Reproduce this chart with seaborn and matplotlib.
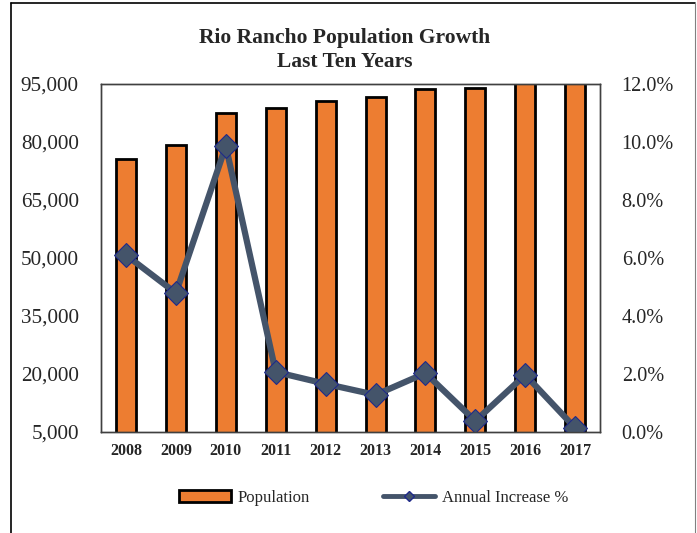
import matplotlib
matplotlib.use("Agg")
import matplotlib.pyplot as plt
import seaborn as sns
import pandas as pd
import numpy as np
from matplotlib.lines import Line2D
from matplotlib.patches import Patch
from matplotlib.ticker import FuncFormatter, FixedLocator

years = ["2008", "2009", "2010", "2011", "2012", "2013", "2014", "2015", "2016", "2017"]
population = [75600, 79200, 87500, 88800, 90600, 91600, 93700, 94000, 96000, 97000]
annual_increase = [6.10, 4.79, 9.86, 2.07, 1.66, 1.28, 2.03, 0.38, 1.97, 0.14]

title = "Rio Rancho Population Growth\nLast Ten Years"
left_ticks = [5000, 20000, 35000, 50000, 65000, 80000, 95000]
right_ticks = [0, 2, 4, 6, 8, 10, 12]

sns.set_style("white")
plt.rcParams["font.family"] = ["Liberation Serif", "DejaVu Serif"]

df = pd.DataFrame({"Year": years, "Population": population, "Pct": annual_increase})

fig = plt.figure(figsize=(6.97, 5.33), dpi=100)
ax = fig.add_axes([0.145, 0.1895, 0.716, 0.653])

sns.barplot(data=df, x="Year", y="Population", color="#ED7D31", width=0.4,
            edgecolor="black", linewidth=2.0, saturation=1, ax=ax, zorder=2)
ax.set_ylim(5000, 95000)
ax.yaxis.set_major_locator(FixedLocator(left_ticks))
ax.yaxis.set_major_formatter(FuncFormatter(lambda v, p: f"{int(v):,}"))
ax.set_xlabel("")
ax.set_ylabel("")
ax.tick_params(axis="y", labelsize=15.2, length=0, pad=16)
ax.tick_params(axis="x", labelsize=11.5, length=0, pad=8)
for lab in ax.get_xticklabels():
    lab.set_fontweight("bold")

ax2 = ax.twinx()
sns.pointplot(data=df, x="Year", y="Pct", color="#44546A", markers="D",
              linestyles="-", linewidth=4.5, markersize=12.5, ax=ax2)
for ln in ax2.lines:
    ln.set_markeredgecolor("#1F2A8A")
    ln.set_markeredgewidth(0.8)
    ln.set_solid_joinstyle("miter")
ax2.set_ylim(0, 12)
ax2.yaxis.set_major_locator(FixedLocator(right_ticks))
ax2.yaxis.set_major_formatter(FuncFormatter(lambda v, p: f"{v:.1f}%"))
ax2.set_ylabel("")
ax2.tick_params(axis="y", labelsize=14.6, length=0, pad=15.5)
ax.set_xlim(-0.5, 9.5)

for a in (ax, ax2):
    for s in a.spines.values():
        s.set_color("#404040")
        s.set_linewidth(1.0)

fig.text(0.495, 0.906, title, ha="center", va="center", fontsize=15.5,
         fontweight="bold", linespacing=1.22)

handles = [
    Patch(facecolor="#ED7D31", edgecolor="black", linewidth=2.0),
    Line2D([0], [0], color="#44546A", linewidth=3.5, marker="D", markersize=5,
           markerfacecolor="#44546A", markeredgecolor="#1F2A8A"),
]
fig.legend(handles, ["Population", "Annual Increase %"], loc="center",
           bbox_to_anchor=(0.536, 0.066), ncol=2, frameon=False, fontsize=12,
           handlelength=3.1, handletextpad=0.4, columnspacing=4.4)

# outer border
fig.add_artist(Line2D([11 / 697, 11 / 697], [0, 1 - 3 / 533], color="black", linewidth=1.2))
fig.add_artist(Line2D([11 / 697, 695 / 697], [1 - 3 / 533, 1 - 3 / 533], color="black", linewidth=1.2))
fig.add_artist(Line2D([695 / 697, 695 / 697], [0, 1 - 3 / 533], color="#808080", linewidth=0.8))

fig.savefig("out.png", dpi=100)
